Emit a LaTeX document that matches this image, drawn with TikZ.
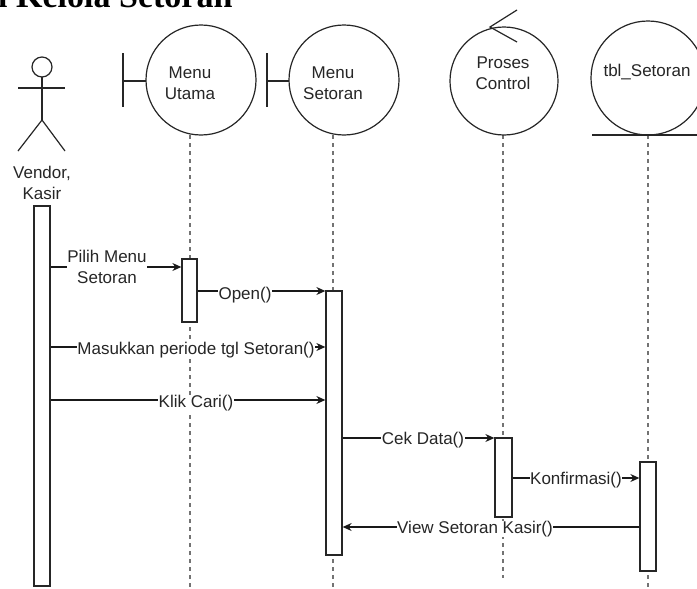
\documentclass[tikz,border=0pt]{standalone}
\usepackage{fontspec}
\setmainfont{Liberation Sans}
\newfontfamily\titlefont{Liberation Serif}
\usetikzlibrary{arrows.meta}
\begin{document}
\begin{tikzpicture}[x=1pt,y=-1pt,
  every node/.style={font=\fontsize{17}{21}\selectfont, text=black!85},
  obj/.style={draw=black!85, line width=1.2pt},
  life/.style={draw=black!55, line width=1.3pt, dash pattern=on 4pt off 4pt},
  act/.style={draw=black!85, fill=white, line width=1.3pt},
  msg/.style={draw=black!90, line width=1.1pt, -{Stealth[length=9pt,width=8pt,inset=3pt]}},
  lbl/.style={fill=white, inner sep=0.5pt, align=center}]
\useasboundingbox (0,0) rectangle (697,589);
\clip (0,0) rectangle (697,589);
\fill[white] (0,0) rectangle (697,589);
% title (clipped at top)
\node[anchor=base west, inner sep=0pt, font=\titlefont\bfseries\fontsize{34}{40}\selectfont, text=black] (title) at (-2,8) {l Kelola Setoran};
% actor
\draw[obj] (42,67) circle (10);
\draw[obj] (42,77) -- (42,120);
\draw[obj] (18,88) -- (65,88);
\draw[obj] (18,151) -- (42,120) -- (65,151);
\node[align=center] (actlbl) at (42,183) {Vendor,\\Kasir};
% lifelines
\draw[life] (190,135) -- (190,589);
\draw[life] (333,135) -- (333,589);
\draw[life] (503,135) -- (503,578);
\draw[life] (648,135) -- (648,589);
% Menu Utama boundary
\draw[obj] (123,53) -- (123,107);
\draw[obj] (123,81) -- (146,81);
\draw[obj] (201,80) circle (55);
\node[align=center] (mu) at (190,83) {Menu\\Utama};
% Menu Setoran boundary
\draw[obj] (267,53) -- (267,107);
\draw[obj] (267,81) -- (289,81);
\draw[obj] (344,80) circle (55);
\node[align=center] (ms) at (333,83) {Menu\\Setoran};
% Proses Control
\draw[obj] (504,81) circle (54);
\draw[obj] (517,10) -- (490,27) -- (517,42);
\node[align=center] (pc) at (503,73) {Proses\\Control};
% tbl_Setoran entity
\draw[obj] (648,78) circle (57);
\draw[obj] (592,135) -- (697,135);
\node (tbl) at (647,72) {tbl\_Setoran};
% activations
\node[act, minimum width=16pt, minimum height=380pt, inner sep=0pt] (aA) at (42,396) {};
\node[act, minimum width=15pt, minimum height=63pt, inner sep=0pt] (aU) at (189.5,290.5) {};
\node[act, minimum width=16pt, minimum height=264pt, inner sep=0pt] (aS) at (334,423) {};
\node[act, minimum width=17pt, minimum height=79pt, inner sep=0pt] (aP) at (503.5,477.5) {};
\node[act, minimum width=16pt, minimum height=109pt, inner sep=0pt] (aT) at (648,516.5) {};
% messages
\draw[msg] (aA.east |- 0,267) -- (aU.west |- 0,267);
\node[lbl] (m1) at (107,267) {Pilih Menu\\Setoran};
\draw[msg] (aU.east |- 0,291) -- (aS.west |- 0,291);
\node[lbl] (m2) at (245,295) {Open()};
\draw[msg] (aA.east |- 0,347) -- (aS.west |- 0,347);
\node[lbl] (m3) at (196,350) {Masukkan periode tgl Setoran()};
\draw[msg] (aA.east |- 0,400) -- (aS.west |- 0,400);
\node[lbl] (m4) at (196,403) {Klik Cari()};
\draw[msg] (aS.east |- 0,438) -- (aP.west |- 0,438);
\node[lbl] (m5) at (423,440) {Cek Data()};
\draw[msg] (aP.east |- 0,478) -- (aT.west |- 0,478);
\node[lbl] (m6) at (576,480) {Konfirmasi()};
\draw[msg] (aT.west |- 0,527) -- (aS.east |- 0,527);
\node[lbl] (m7) at (475,529) {View Setoran Kasir()};
\end{tikzpicture}
\end{document}
